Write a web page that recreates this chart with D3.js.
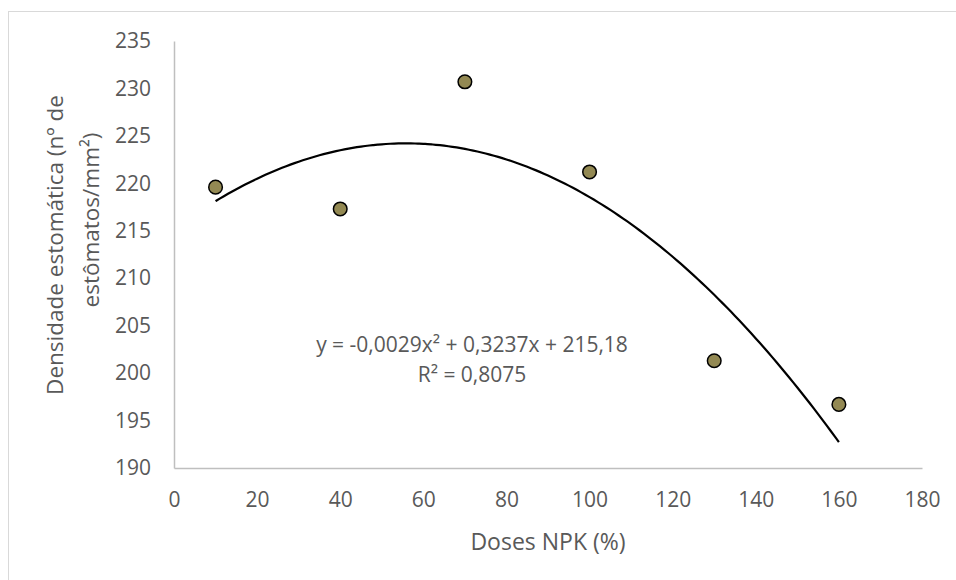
<!DOCTYPE html>
<html>
<head>
<meta charset="utf-8">
<script src="https://cdnjs.cloudflare.com/ajax/libs/d3/7.8.5/d3.min.js"></script>
<style>
  html, body { margin: 0; padding: 0; background: #fff; }
  svg text { font-family: "Open Sans", sans-serif; fill: #595959; }
</style>
</head>
<body>
<div class="chart-container"></div>
<script>
// Data
var doses = [10, 40, 70, 100, 130, 160];
var densidade = [219.6, 217.3, 230.7, 221.2, 201.3, 196.7];

// Trend line (polynomial, order 2) as printed on the chart
var trendCoef = [-0.0029, 0.3237, 215.18];
var trendLabel = ["y = -0,0029x² + 0,3237x + 215,18", "R² = 0,8075"];

var xTicks = [0, 20, 40, 60, 80, 100, 120, 140, 160, 180];
var yTicks = [190, 195, 200, 205, 210, 215, 220, 225, 230, 235];

document.addEventListener("DOMContentLoaded", function () {
    var w = 956;
    var h = 580;

    var svg = d3.select(".chart-container")
        .append("svg")
        .attr("width", w)
        .attr("height", h);

    // chart border (cut off at right and bottom like the screenshot)
    svg.append("rect")
        .attr("x", 8.5)
        .attr("y", 11.5)
        .attr("width", 960)
        .attr("height", 600)
        .attr("fill", "none")
        .attr("stroke", "#d9d9d9")
        .attr("stroke-width", 1);

    var x = d3.scaleLinear().domain([0, 180]).range([174, 922]);
    var y = d3.scaleLinear().domain([190, 235]).range([468, 41]);

    // axes
    var xAxis = d3.axisBottom(x).tickValues(xTicks).tickSize(0).tickPadding(24);
    var yAxis = d3.axisLeft(y).tickValues(yTicks).tickSize(0).tickPadding(23);

    var gx = svg.append("g").attr("transform", "translate(0," + y(190) + ")").call(xAxis);
    var gy = svg.append("g").attr("transform", "translate(" + x(0) + ",0)").call(yAxis);

    [gx, gy].forEach(function (g) {
        g.select(".domain").attr("stroke", "#bfbfbf").attr("stroke-width", 1.5);
        g.selectAll("text")
            .attr("font-size", 21)
            .style("font-family", "'Open Sans', sans-serif")
            .attr("fill", "#595959");
    });
    gx.selectAll("text").attr("dy", "0.71em");

    // trend line
    var trendX = d3.range(doses[0], doses[doses.length - 1] + 0.5, 1);
    var line = d3.line()
        .x(function (d) { return x(d); })
        .y(function (d) { return y(trendCoef[0] * d * d + trendCoef[1] * d + trendCoef[2]); })
        .curve(d3.curveBasis);

    svg.append("path")
        .datum(trendX)
        .attr("d", line)
        .attr("fill", "none")
        .attr("stroke", "#000")
        .attr("stroke-width", 2.2);

    // points
    svg.selectAll("circle.pt")
        .data(doses)
        .enter()
        .append("circle")
        .attr("class", "pt")
        .attr("cx", function (d) { return x(d); })
        .attr("cy", function (d, i) { return y(densidade[i]); })
        .attr("r", 6.8)
        .attr("fill", "#938953")
        .attr("stroke", "#000")
        .attr("stroke-width", 1.5);

    // equation label
    svg.selectAll("text.eq")
        .data(trendLabel)
        .enter()
        .append("text")
        .attr("class", "eq")
        .attr("x", 472)
        .attr("y", function (d, i) { return 352 + i * 30; })
        .attr("text-anchor", "middle")
        .attr("font-size", 21)
        .text(function (d) { return d; });

    // axis titles
    svg.append("text")
        .attr("x", 548)
        .attr("y", 550)
        .attr("text-anchor", "middle")
        .attr("font-size", 23)
        .text("Doses NPK (%)");

    var yTitle = svg.append("text")
        .attr("transform", "rotate(-90)")
        .attr("text-anchor", "middle")
        .attr("font-size", 22.5);
    yTitle.append("tspan").attr("x", -245).attr("y", 63).text("Densidade estomática (nº de");
    yTitle.append("tspan").attr("x", -220).attr("y", 99).text("estômatos/mm²)");
});
</script>
</body>
</html>
